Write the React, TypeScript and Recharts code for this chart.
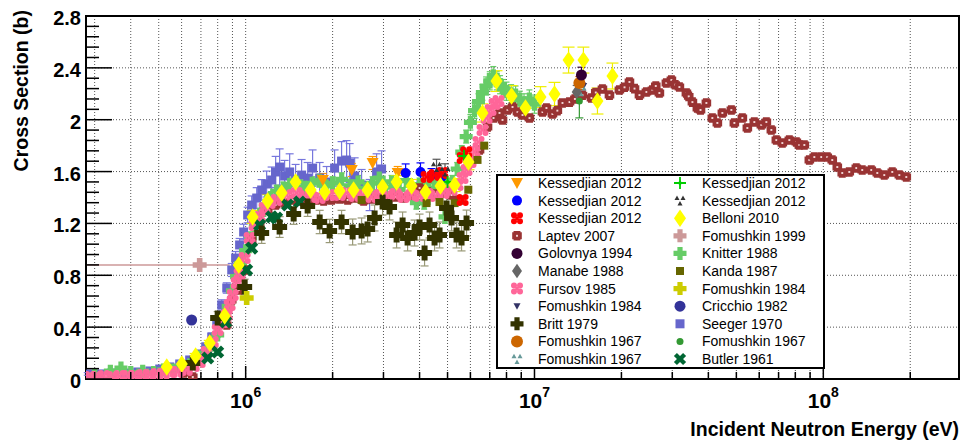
import React from 'react';
import { ScatterChart, Scatter, XAxis, YAxis, CartesianGrid, ReferenceLine, ReferenceArea, ErrorBar } from 'recharts';

// [energy (MeV), cross section (b), error (b)]
type Pt = [number, number, number?];

const FONT = "'Liberation Sans', Arial, Helvetica, sans-serif";

const kessOrange: Pt[] = [[1.85, 1.535, 0.05], [2.33, 1.612, 0.05], [2.75, 1.666, 0.05], [3.36, 1.589, 0.05]];
const kessBlue: Pt[] = [[3.58, 1.589, 0.07], [4.03, 1.597, 0.07], [4.40, 1.573, 0.05], [4.77, 1.558, 0.05]];
const kessRed: Pt[] = [[4.23, 1.558], [4.51, 1.573], [4.80, 1.589], [5.64, 1.381], [5.64, 1.705], [5.80, 1.75]];
const laptev: Pt[] = [
  [0.610, 0.046], [0.656, 0.015], [0.860, 0.417], [0.895, 0.609], [0.946, 0.686], [0.992, 0.841], [1.049, 1.072],
  [1.118, 1.211], [1.192, 1.303], [1.270, 1.342], [1.364, 1.357], [1.454, 1.381], [1.537, 1.373], [1.639, 1.388],
  [1.747, 1.381], [1.862, 1.373], [1.984, 1.381], [2.115, 1.388], [2.254, 1.381], [2.403, 1.396], [2.561, 1.373],
  [2.729, 1.388], [2.909, 1.396], [3.100, 1.381], [3.304, 1.404], [3.522, 1.396], [3.753, 1.419], [4.000, 1.473],
  [4.264, 1.442], [4.544, 1.427], [4.843, 1.435], [5.162, 1.419], [5.502, 1.381], [6.452, 1.766], [6.877, 1.944],
  [7.214, 2.013], [7.566, 2.052], [7.750, 1.998], [8.066, 2.075], [8.394, 2.098], [8.735, 2.059], [9.090, 2.036],
  [9.610, 2.013], [10.66, 2.059], [11.0, 2.09], [11.54, 2.044], [12.0, 2.07], [12.50, 2.129], [13.22, 2.136],
  [13.8, 2.16], [14.66, 2.190], [15.75, 2.167], [16.3, 2.21], [17.19, 2.237], [18.18, 2.190], [19.68, 2.229],
  [20.5, 2.25], [21.32, 2.291], [22.2, 2.24], [23.09, 2.190], [24.41, 2.214], [25.61, 2.229], [26.3, 2.26],
  [27.07, 2.206], [28.62, 2.283], [29.79, 2.306], [30.7, 2.27], [31.75, 2.252], [33.57, 2.206], [34.2, 2.18],
  [35.22, 2.136], [36.64, 2.090], [37.57, 2.075], [39.37, 2.129], [41.29, 2.013], [42.97, 1.975], [44.72, 2.052],
  [48.05, 2.075], [49.21, 1.975], [52.45, 2.013], [54.58, 1.936], [57.70, 1.982], [61.02, 1.959], [63.51, 1.982],
  [66.09, 1.921], [68.77, 1.843], [72.13, 1.820], [76.27, 1.843], [80.65, 1.828], [82.61, 1.805], [85.97, 1.805],
  [89.46, 1.689], [93.09, 1.712], [98.42, 1.712], [103.2, 1.712], [107.4, 1.689], [111.8, 1.635], [116.3, 1.589],
  [123.0, 1.597], [130.1, 1.627], [136.4, 1.612], [146.6, 1.612], [153.8, 1.589], [162.6, 1.573], [173.3, 1.597],
  [183.3, 1.573], [193.8, 1.558],
];
const golovnya: Pt[] = [[14.54, 2.345, 0.06]];
const manabe: Pt[] = [[14.0, 2.214, 0.05]];
const fursov: Pt[] = [
  [0.289, 0.015], [0.305, 0.015], [0.323, 0.023], [0.347, 0.015], [0.366, 0.023], [0.391, 0.023], [0.413, 0.023],
  [0.440, 0.031], [0.466, 0.031], [0.492, 0.039], [0.520, 0.039], [0.546, 0.054], [0.582, 0.054], [0.625, 0.069],
  [0.661, 0.100], [0.693, 0.131], [0.733, 0.208], [0.769, 0.285], [0.800, 0.378], [0.833, 0.440], [0.860, 0.494],
  [0.880, 0.571], [0.902, 0.648], [0.931, 0.740], [0.953, 0.810], [0.992, 0.933], [1.032, 1.088], [1.074, 1.188],
  [1.118, 1.250], [1.163, 1.319], [1.211, 1.357], [1.280, 1.381], [1.386, 1.419], [1.501, 1.435], [1.600, 1.411],
  [1.692, 1.404], [1.804, 1.396], [1.953, 1.419], [2.115, 1.419], [2.236, 1.435], [2.384, 1.411], [2.540, 1.419],
  [2.729, 1.404], [2.909, 1.419], [3.100, 1.411], [3.304, 1.427], [3.522, 1.404], [3.753, 1.419], [4.000, 1.411],
  [4.264, 1.427], [4.544, 1.411], [4.843, 1.435], [5.162, 1.458], [5.415, 1.496], [5.635, 1.550], [5.818, 1.612],
  [6.006, 1.674], [6.200, 1.751], [6.401, 1.828], [6.608, 1.921], [6.823, 2.013], [7.043, 2.075], [7.272, 2.121],
  [7.507, 2.144],
];
const fomushkin84Tri: Pt[] = [[14.8, 2.26]];
const britt: Pt[] = [
  [0.656, 0.123, 0.04], [0.800, 0.470, 0.05], [0.992, 0.710, 0.06], [1.136, 1.126, 0.08], [1.311, 1.172, 0.08],
  [1.466, 1.273, 0.08], [1.639, 1.334, 0.08], [1.804, 1.211, 0.09], [1.953, 1.142, 0.09], [2.148, 1.211, 0.09],
  [2.346, 1.134, 0.1], [2.520, 1.142, 0.1], [2.643, 1.157, 0.1], [2.795, 1.242, 0.1], [2.979, 1.365, 0.1],
  [3.149, 1.327, 0.1], [3.331, 1.111, 0.1], [3.494, 1.188, 0.1], [3.636, 1.088, 0.1], [3.844, 1.126, 0.1],
  [4.000, 1.172, 0.1], [4.163, 0.972, 0.1], [4.332, 1.188, 0.1], [4.508, 1.088, 0.1], [4.691, 1.111, 0.1],
  [4.961, 1.319, 0.1], [5.162, 1.242, 0.1], [5.372, 1.111, 0.1], [5.590, 1.088, 0.1], [5.818, 1.203, 0.1],
];
const fomushkin67Orange: Pt[] = [[14.3, 2.283, 0.05]];
const fomushkin67Teal: Pt[] = [[14.5, 2.22]];
const kessStar: Pt[] = [[5.0, 1.52], [5.7, 1.72]];
const kessBlack: Pt[] = [[4.58, 1.635, 0.06], [4.9, 1.60, 0.06]];
const belloni: Pt[] = [
  [0.533, 0.093, 0.02], [0.601, 0.116, 0.02], [0.671, 0.177, 0.02], [0.751, 0.278, 0.02], [0.846, 0.486, 0.03],
  [0.946, 0.879, 0.04], [1.057, 1.250, 0.05], [1.192, 1.373, 0.05], [1.332, 1.435, 0.05], [1.489, 1.519, 0.05],
  [1.679, 1.458, 0.05], [1.877, 1.442, 0.05], [2.115, 1.450, 0.05], [2.364, 1.458, 0.05], [2.643, 1.458, 0.05],
  [2.979, 1.481, 0.05], [3.331, 1.519, 0.05], [3.753, 1.489, 0.05], [4.196, 1.442, 0.05], [4.728, 1.489, 0.05],
  [5.287, 1.496, 0.05], [5.910, 1.674, 0.06], [6.608, 2.052, 0.07], [7.387, 2.298, 0.08], [8.328, 2.183, 0.08],
  [9.309, 2.090, 0.08], [10.49, 2.175, 0.08], [11.73, 2.198, 0.09], [13.12, 2.460, 0.1], [14.77, 2.460, 0.1],
  [16.52, 2.144, 0.1], [18.62, 2.337, 0.1],
];
const fomushkin99: Pt[] = [[0.693, 0.879]];
const fomushkin99Ex: [number, number][] = [[0.41, 0.187]];
const knitter: Pt[] = [
  [0.30, 0.03, 0.01], [0.34, 0.06, 0.01], [0.37, 0.085, 0.01], [0.40, 0.05, 0.01], [0.44, 0.06, 0.01], [0.48, 0.05, 0.01],
  [0.52, 0.07, 0.01], [0.56, 0.07, 0.01], [0.60, 0.09, 0.01], [0.64, 0.11, 0.01], [0.68, 0.15, 0.02], [0.72, 0.20, 0.02],
  [0.76, 0.26, 0.02], [0.80, 0.34, 0.02], [0.84, 0.46, 0.03], [0.87, 0.56, 0.03], [0.90, 0.68, 0.03], [0.93, 0.79, 0.03],
  [0.96, 0.89, 0.03], [1.0, 0.99, 0.04], [1.04, 1.09, 0.04], [1.08, 1.18, 0.04], [1.12, 1.27, 0.04], [1.17, 1.34, 0.04],
  [1.22, 1.40, 0.04], [1.28, 1.45, 0.04], [1.35, 1.47, 0.05], [1.42, 1.50, 0.05], [1.50, 1.52, 0.05], [1.60, 1.48, 0.05],
  [1.70, 1.51, 0.05], [1.80, 1.53, 0.05], [1.90, 1.49, 0.05], [2.00, 1.51, 0.05], [2.15, 1.54, 0.05], [2.30, 1.49, 0.05],
  [2.45, 1.52, 0.05], [2.60, 1.47, 0.05], [2.75, 1.51, 0.05], [2.90, 1.55, 0.05], [3.05, 1.48, 0.05], [3.20, 1.52, 0.05],
  [3.40, 1.46, 0.05], [3.60, 1.53, 0.05], [3.80, 1.44, 0.05], [3.90, 1.36, 0.05], [4.00, 1.50, 0.05], [4.15, 1.36, 0.05],
  [4.30, 1.47, 0.05], [4.50, 1.52, 0.05], [4.70, 1.45, 0.05], [4.90, 1.25, 0.05], [5.00, 1.50, 0.05], [5.20, 1.52, 0.05],
  [5.40, 1.62, 0.05], [5.60, 1.75, 0.05], [5.80, 1.87, 0.05], [6.00, 1.98, 0.06], [6.20, 2.07, 0.06], [6.40, 2.14, 0.06],
  [6.60, 2.21, 0.06], [6.80, 2.26, 0.07], [7.00, 2.30, 0.07], [7.20, 2.34, 0.07], [7.40, 2.30, 0.07], [7.60, 2.27, 0.07],
  [7.80, 2.24, 0.07], [8.00, 2.22, 0.07], [8.30, 2.20, 0.07], [8.60, 2.19, 0.07], [8.90, 2.15, 0.07], [9.20, 2.13, 0.07],
  [9.60, 2.16, 0.07], [10.0, 2.12, 0.07],
];
const kanda: Pt[] = [[2.52, 1.381], [4.23, 1.357], [4.69, 1.365], [5.29, 1.357], [5.9, 1.46], [6.35, 1.69], [6.7, 1.80]];
const fomushkin84Plus: Pt[] = [[1.008, 0.625]];
const cricchio: Pt[] = [[0.650, 0.455]];
const seeger: Pt[] = [
  [0.284, 0.039, 0.01], [0.313, 0.039, 0.01], [0.344, 0.046, 0.01], [0.381, 0.046, 0.01], [0.423, 0.054, 0.01],
  [0.466, 0.062, 0.01], [0.504, 0.077, 0.015], [0.546, 0.093, 0.015], [0.591, 0.116, 0.02], [0.640, 0.147, 0.02],
  [0.693, 0.193, 0.02], [0.727, 0.247, 0.03], [0.763, 0.324, 0.03], [0.794, 0.432, 0.03], [0.826, 0.571, 0.04],
  [0.860, 0.702, 0.04], [0.895, 0.841, 0.05], [0.923, 0.933, 0.05], [0.953, 1.034, 0.05], [0.984, 1.134, 0.06],
  [1.016, 1.265, 0.06], [1.049, 1.342, 0.07], [1.092, 1.396, 0.08], [1.136, 1.458, 0.08], [1.182, 1.504, 0.1],
  [1.230, 1.535, 0.1], [1.270, 1.597, 0.12], [1.311, 1.635, 0.14], [1.364, 1.566, 0.12], [1.420, 1.597, 0.14],
  [1.489, 1.535, 0.12], [1.562, 1.573, 0.12], [1.639, 1.550, 0.12], [1.705, 1.627, 0.14], [1.804, 1.550, 0.12],
  [1.907, 1.519, 0.12], [2.032, 1.627, 0.14], [2.148, 1.681, 0.15], [2.236, 1.689, 0.15], [2.291, 1.666, 0.15],
  [2.384, 1.566, 0.14], [2.520, 1.496, 0.12], [2.686, 1.419, 0.12], [2.840, 1.597, 0.14], [2.955, 1.620, 0.14],
];
const fomushkin67Green: Pt[] = [[14.3, 2.144, 0.13]];
const butler: Pt[] = [
  [0.739, 0.162], [0.800, 0.208], [0.853, 0.440], [1.008, 0.841], [1.049, 1.010], [1.118, 1.188],
  [1.230, 1.250], [1.280, 1.242], [1.397, 1.342], [1.537, 1.365],
];

const xMajorTicks = [1e6, 1e7, 1e8];
const xTicks = [
  3e5, 4e5, 5e5, 6e5, 7e5, 8e5, 9e5,
  1e6, 2e6, 3e6, 4e6, 5e6, 6e6, 7e6, 8e6, 9e6,
  1e7, 2e7, 3e7, 4e7, 5e7, 6e7, 7e7, 8e7, 9e7,
  1e8, 2e8,
];
const yMajorTicks = [0, 0.4, 0.8, 1.2, 1.6, 2, 2.4, 2.8];
const yTicks: number[] = [];
for (let i = 0; i <= 35; i++) yTicks.push(Math.round(i * 0.08 * 100) / 100);

type Kind = 'circle' | 'square' | 'diamond' | 'triDown' | 'plus' | 'x' | 'openCross' | 'blob4' | 'star' | 'tri3';

const plusPath = (cx: number, cy: number, s: number, w: number) =>
  `M${cx - w},${cy - s}H${cx + w}V${cy - w}H${cx + s}V${cy + w}H${cx + w}V${cy + s}H${cx - w}V${cy + w}H${cx - s}V${cy - w}H${cx - w}Z`;

const Marker = ({ kind, color, cx, cy, s }: { kind: Kind; color: string; cx: number; cy: number; s: number }) => {
  switch (kind) {
    case 'circle':
      return <circle cx={cx} cy={cy} r={s} fill={color} />;
    case 'square':
      return <rect x={cx - s} y={cy - s} width={2 * s} height={2 * s} fill={color} />;
    case 'diamond':
      return <polygon points={`${cx},${cy - s * 1.45} ${cx + s},${cy} ${cx},${cy + s * 1.45} ${cx - s},${cy}`} fill={color} />;
    case 'triDown':
      return <polygon points={`${cx - s},${cy - s * 0.85} ${cx + s},${cy - s * 0.85} ${cx},${cy + s}`} fill={color} />;
    case 'plus':
      return <path d={plusPath(cx, cy, s, s * 0.4)} fill={color} />;
    case 'x':
      return <path d={plusPath(cx, cy, s, s * 0.33)} transform={`rotate(45 ${cx} ${cy})`} fill={color} />;
    case 'openCross':
      return (
        <g>
          <path d={plusPath(cx, cy, s, s * 0.72)} fill={color} />
          <rect x={cx - s * 0.2} y={cy - s * 0.2} width={s * 0.4} height={s * 0.4} fill="#f3d6d6" />
        </g>
      );
    case 'blob4': {
      const d = s * 0.5;
      return (
        <g fill={color}>
          <circle cx={cx - d} cy={cy - d} r={s * 0.5} />
          <circle cx={cx + d} cy={cy - d} r={s * 0.5} />
          <circle cx={cx - d} cy={cy + d} r={s * 0.5} />
          <circle cx={cx + d} cy={cy + d} r={s * 0.5} />
          <rect x={cx - s * 0.3} y={cy - s * 0.3} width={s * 0.6} height={s * 0.6} />
        </g>
      );
    }
    case 'star':
      return (
        <g fill={color}>
          <path d={plusPath(cx, cy, s, s * 0.15)} />
          <rect x={cx - s * 0.3} y={cy - s * 0.3} width={s * 0.6} height={s * 0.6} transform={`rotate(45 ${cx} ${cy})`} />
        </g>
      );
    case 'tri3': {
      const t = s * 0.42;
      const tri = (x: number, y: number) => `${x - t},${y + t * 0.8} ${x + t},${y + t * 0.8} ${x},${y - t}`;
      return (
        <g fill={color}>
          <polygon points={tri(cx - s * 0.5, cy - s * 0.45)} />
          <polygon points={tri(cx + s * 0.5, cy - s * 0.45)} />
          <polygon points={tri(cx, cy + s * 0.5)} />
        </g>
      );
    }
  }
  return null;
};

type Series = { name: string; kind: Kind; color: string; s: number; data: Pt[]; z: number; err?: string; errW?: number };

// legend order: left column then right column
const series: Series[] = [
  { name: 'Kessedjian 2012', kind: 'triDown', color: '#ff9900', s: 6, data: kessOrange, z: 9, err: '#ff9900', errW: 4 },
  { name: 'Kessedjian 2012', kind: 'circle', color: '#0000ff', s: 5, data: kessBlue, z: 9, err: '#0000ff', errW: 4 },
  { name: 'Kessedjian 2012', kind: 'blob4', color: '#ff0000', s: 6, data: kessRed, z: 9 },
  { name: 'Laptev 2007', kind: 'openCross', color: '#993333', s: 4.8, data: laptev, z: 3 },
  { name: 'Golovnya 1994', kind: 'circle', color: '#330033', s: 5.5, data: golovnya, z: 13, err: '#330033', errW: 4 },
  { name: 'Manabe 1988', kind: 'diamond', color: '#666666', s: 5, data: manabe, z: 11, err: '#666666', errW: 4 },
  { name: 'Fursov 1985', kind: 'blob4', color: '#ff6699', s: 6, data: fursov, z: 4 },
  { name: 'Fomushkin 1984', kind: 'triDown', color: '#333366', s: 3.5, data: fomushkin84Tri, z: 8 },
  { name: 'Britt 1979', kind: 'plus', color: '#333300', s: 7.5, data: britt, z: 7, err: '#999977', errW: 4 },
  { name: 'Fomushkin 1967', kind: 'circle', color: '#cc6600', s: 6, data: fomushkin67Orange, z: 12, err: '#cc6600', errW: 4 },
  { name: 'Fomushkin 1967', kind: 'tri3', color: '#669999', s: 6, data: fomushkin67Teal, z: 8 },
  { name: 'Kessedjian 2012', kind: 'star', color: '#00cc00', s: 6, data: kessStar, z: 9 },
  { name: 'Kessedjian 2012', kind: 'tri3', color: '#333333', s: 6, data: kessBlack, z: 9, err: '#555555', errW: 4 },
  { name: 'Belloni 2010', kind: 'diamond', color: '#ffff00', s: 6, data: belloni, z: 15, err: '#eeee00', errW: 6 },
  { name: 'Fomushkin 1999', kind: 'plus', color: '#cc9999', s: 7, data: fomushkin99, z: 10 },
  { name: 'Knitter 1988', kind: 'plus', color: '#66cc66', s: 6.5, data: knitter, z: 2, err: '#66cc66', errW: 3 },
  { name: 'Kanda 1987', kind: 'square', color: '#666600', s: 4, data: kanda, z: 5 },
  { name: 'Fomushkin 1984', kind: 'plus', color: '#cccc00', s: 7, data: fomushkin84Plus, z: 10 },
  { name: 'Cricchio 1982', kind: 'circle', color: '#333399', s: 5.5, data: cricchio, z: 10 },
  { name: 'Seeger 1970', kind: 'square', color: '#6666cc', s: 4.5, data: seeger, z: 1, err: '#7777dd', errW: 4 },
  { name: 'Fomushkin 1967', kind: 'circle', color: '#339933', s: 3.5, data: fomushkin67Green, z: 14, err: '#339933', errW: 4 },
  { name: 'Butler 1961', kind: 'x', color: '#006633', s: 7, data: butler, z: 6 },
];

const toRows = (pts: Pt[], ex?: [number, number][]) =>
  pts.map(([e, s, d], i) => ({ x: e * 1e6, y: s, e: d ?? 0, ex: ex ? [ex[i][0] * 1e6, ex[i][1] * 1e6] : [0, 0] }));

const XTick = ({ x, y, payload }: any) => {
  const p = Math.log10(payload.value);
  const major = xMajorTicks.includes(payload.value);
  return (
    <g>
      <line x1={x} x2={x} y1={y} y2={y - (major ? 13 : 7)} stroke="#000" strokeWidth={1.5} />
      {major && (
        <text x={x} y={y + 29} textAnchor="middle" fontFamily={FONT} fontWeight="bold" fontSize={21} fill="#000">
          10<tspan dy={-11} fontSize={14}>{Math.round(p)}</tspan>
        </text>
      )}
    </g>
  );
};

const YTick = ({ x, y, payload }: any) => {
  const v = payload.value;
  const major = yMajorTicks.some((m) => Math.abs(m - v) < 1e-6);
  return (
    <g>
      <line x1={x} x2={x + (major ? 26 : 13)} y1={y} y2={y} stroke="#000" strokeWidth={1.5} />
      {major && (
        <text x={x - 5} y={y + 9} textAnchor="end" fontFamily={FONT} fontWeight="bold" fontSize={20} fill="#000">
          {Number(v.toFixed(1)).toString()}
        </text>
      )}
    </g>
  );
};

const App = () => {
  const drawOrder = [...series].sort((a, b) => a.z - b.z);
  return (
    <div style={{ position: 'absolute', left: 0, top: 0, width: 962, height: 441, background: '#fff' }}>
      <ScatterChart width={962} height={441} margin={{ top: 16, right: 3, left: 0, bottom: 0 }}>
        <CartesianGrid horizontal={false} stroke="#555" strokeDasharray="1 2" />
        {yMajorTicks.slice(1, -1).map((v) => (
          <ReferenceLine key={v} y={v} stroke="#555" strokeDasharray="1 2" />
        ))}
        <XAxis
          type="number"
          dataKey="x"
          scale="log"
          domain={[2.8e5, 2.95e8]}
          allowDataOverflow
          ticks={xTicks}
          interval={0}
          tick={<XTick />}
          tickLine={false}
          axisLine={false}
          tickSize={0}
          tickMargin={0}
          height={62}
        />
        <YAxis
          type="number"
          dataKey="y"
          domain={[0, 2.8]}
          allowDataOverflow
          ticks={yTicks}
          interval={0}
          tick={<YTick />}
          tickLine={false}
          axisLine={false}
          tickSize={0}
          tickMargin={0}
          width={86}
        />
        {drawOrder.map((sr, i) => (
          <Scatter
            key={i}
            name={sr.name}
            data={toRows(sr.data, sr.name === 'Fomushkin 1999' ? fomushkin99Ex : undefined)}
            isAnimationActive={false}
            shape={(p: any) => <Marker kind={sr.kind} color={sr.color} cx={p.cx} cy={p.cy} s={sr.s} />}
          >
            {sr.err && <ErrorBar dataKey="e" direction="y" width={sr.errW ?? 4} stroke={sr.err} strokeWidth={1.2} />}
            {sr.name === 'Fomushkin 1999' && <ErrorBar dataKey="ex" direction="x" width={0} stroke="#cc9999" strokeWidth={1.5} />}
          </Scatter>
        ))}
        <ReferenceArea x1={2.8e5} x2={2.95e8} y1={0} y2={2.8} fill="none" fillOpacity={0} stroke="#000" strokeWidth={2} ifOverflow="visible" />
      </ScatterChart>
      <svg width={962} height={441} style={{ position: 'absolute', left: 0, top: 0, pointerEvents: 'none' }}>
        <text transform="translate(28,10) rotate(-90)" textAnchor="end" fontFamily={FONT} fontWeight="bold" fontSize={19.5} fill="#000">
          Cross Section (b)
        </text>
        <text x={959} y={436} textAnchor="end" fontFamily={FONT} fontWeight="bold" fontSize={19.5} fill="#000">
          Incident Neutron Energy (eV)
        </text>
        <rect x={497} y={175} width={327} height={193} fill="#fff" stroke="#000" strokeWidth={2} />
        {series.map((sr, i) => {
          const col = i < 11 ? 0 : 1;
          const row = i % 11;
          const cy = 183 + row * 17.6;
          const mx = col === 0 ? 517 : 680;
          const tx = col === 0 ? 538 : 702;
          return (
            <g key={i}>
              <Marker kind={sr.kind} color={sr.color} cx={mx} cy={cy} s={Math.min(sr.s, 6.5)} />
              <text x={tx} y={cy + 5} fontFamily={FONT} fontSize={14} fill="#000">
                {sr.name}
              </text>
            </g>
          );
        })}
      </svg>
    </div>
  );
};

export default App;
